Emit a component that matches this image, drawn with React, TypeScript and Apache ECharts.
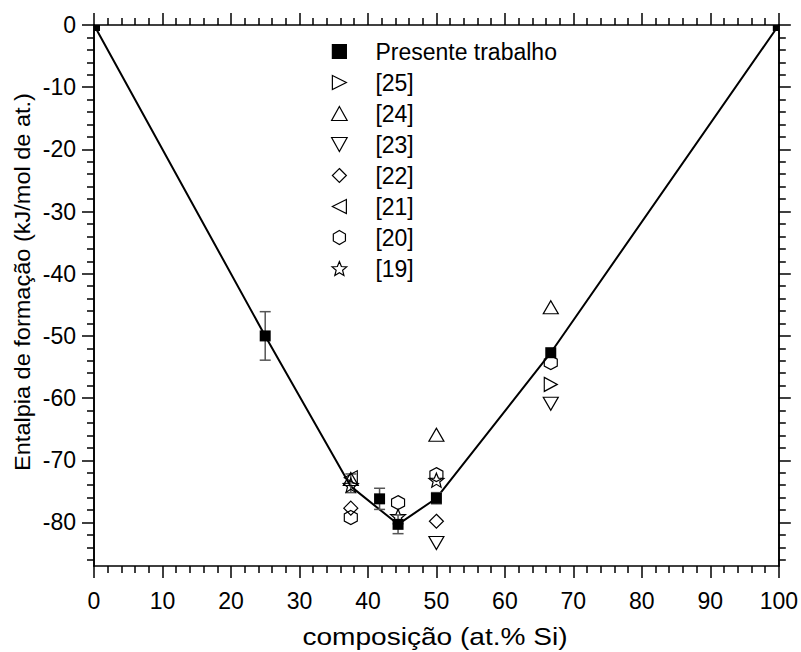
import React, { useEffect, useRef } from "react";
import * as echarts from "echarts";

// ---- data ----
const presentX = [0, 25, 41.7, 44.4, 50, 66.7, 100];
const presentY = [0, -50, -76.2, -80.3, -76.1, -52.7, 0];

const errX = [25, 37.5, 41.7, 44.4, 50];
const errLow = [-53.9, -75.2, -77.9, -81.8, -77.0];
const errHigh = [-46.1, -72.2, -74.5, -78.8, -75.2];

const lineX = [0, 25, 37.5, 44.4, 50, 66.7, 100];
const lineY = [0, -50, -74.2, -80.3, -76.1, -52.7, 0];

const ref25X = [66.7];
const ref25Y = [-57.8];
const ref24X = [37.5, 50, 66.7];
const ref24Y = [-73.0, -65.9, -45.4];
const ref23X = [50, 66.7];
const ref23Y = [-83.3, -60.9];
const ref22X = [37.5, 50];
const ref22Y = [-77.7, -79.8];
const ref21X = [37.5];
const ref21Y = [-72.8];
const ref20X = [37.5, 44.4, 50, 66.7];
const ref20Y = [-79.2, -76.8, -72.3, -54.3];
const ref19X = [37.5, 44.4, 50];
const ref19Y = [-74.0, -79.0, -73.2];

const seriesNames = ["Presente trabalho", "[25]", "[24]", "[23]", "[22]", "[21]", "[20]", "[19]"];

const yMajorTicks = [-80, -70, -60, -50, -40, -30, -20, -10, 0];
const yMinorTicks = [-86, -84, -82, -78, -76, -74, -72, -68, -66, -64, -62, -58, -56, -54, -52, -48, -46, -44, -42, -38, -36, -34, -32, -28, -26, -24, -22, -18, -16, -14, -12, -8, -6, -4, -2];

const xTitle = "composição (at.% Si)";
const yTitle = "Entalpia de formação (kJ/mol de at.)";

// ---- symbols ----
const SYM_SQUARE = "path://M0,0L10,0L10,10L0,10Z";
const SYM_RIGHT = "path://M0,0L10,5L0,10Z";
const SYM_UP = "path://M5,0L10,9L0,9Z";
const SYM_DOWN = "path://M0,0L10,0L5,9Z";
const SYM_DIAMOND = "path://M5,0L10,5L5,10L0,5Z";
const SYM_LEFT = "path://M10,0L0,5L10,10Z";
const SYM_HEX = "path://M5,0L9.33,2.5L9.33,7.5L5,10L0.67,7.5L0.67,2.5Z";
const SYM_STAR = "path://M5,0L6.293,3.22L9.755,3.455L7.092,5.68L7.939,9.045L5,7.2L2.061,9.045L2.908,5.68L0.245,3.455L3.707,3.22Z";

const FONT = "'Liberation Sans', Arial, sans-serif";
const X_MIN = 0;
const X_MAX = 100;

function zip(xs: number[], ys: number[]) {
  return xs.map((x, i) => [x, ys[i]]);
}

export default function App() {
  const ref = useRef<HTMLDivElement>(null);
  useEffect(() => {
    if (!ref.current) return;
    const chart = echarts.init(ref.current, undefined, { renderer: "svg" });

    const hollow = (name: string, symbol: string, xs: number[], ys: number[], size: number[]) => ({
      name,
      type: "scatter",
      symbol,
      symbolSize: size,
      data: zip(xs, ys),
      itemStyle: { color: "rgba(0,0,0,0)", borderColor: "#000", borderWidth: 1.2, opacity: 1 },
      z: 4,
    });

    // squares on the plot frame are shown clipped (only the inner quarter)
    const presentData = presentX.map((x, i) => {
      if (x === X_MIN) return { value: [x, presentY[i]], symbolSize: [6, 6], symbolOffset: [3, 3] };
      if (x === X_MAX) return { value: [x, presentY[i]], symbolSize: [6, 6], symbolOffset: [-3, 3] };
      return { value: [x, presentY[i]] };
    });

    const xAxisBase = {
      type: "value",
      min: X_MIN,
      max: X_MAX,
      interval: 10,
      axisLine: { show: true, onZero: false, lineStyle: { color: "#000", width: 1.6 } },
      axisTick: { show: true, length: 12, lineStyle: { color: "#000", width: 1.5 } },
      minorTick: { show: true, splitNumber: 5, length: 7, lineStyle: { color: "#000", width: 1.5 } },
      splitLine: { show: false },
      minorSplitLine: { show: false },
    };

    const yAxisBase = (position: string, major: boolean, labels: boolean) => ({
      type: "value",
      position,
      min: -87,
      max: 0,
      axisLine: { show: true, onZero: false, lineStyle: { color: "#000", width: 1.6 } },
      axisTick: {
        show: true,
        length: major ? 12 : 7,
        customValues: major ? yMajorTicks : yMinorTicks,
        lineStyle: { color: "#000", width: 1.5 },
      },
      axisLabel: labels
        ? { show: true, customValues: yMajorTicks, fontSize: 23, color: "#000", fontFamily: FONT, margin: 18 }
        : { show: false },
      splitLine: { show: false },
    });

    chart.setOption({
      animation: false,
      backgroundColor: "#fff",
      grid: { left: 94, right: 20, top: 25, bottom: 86, containLabel: false },
      xAxis: [
        {
          ...xAxisBase,
          position: "bottom",
          axisLabel: { fontSize: 23, color: "#000", fontFamily: FONT, margin: 23 },
        },
        { ...xAxisBase, position: "top", axisLabel: { show: false } },
      ],
      yAxis: [
        yAxisBase("left", true, true),
        yAxisBase("left", false, false),
        yAxisBase("right", true, false),
        yAxisBase("right", false, false),
      ],
      legend: {
        data: seriesNames,
        orient: "vertical",
        left: 331,
        top: 40,
        padding: 0,
        itemGap: 8,
        itemWidth: 62,
        itemHeight: 14,
        symbolKeepAspect: true,
        itemStyle: { borderWidth: 1.2 },
        textStyle: { fontSize: 23, color: "#000", fontFamily: FONT },
      },
      graphic: [
        {
          type: "text",
          x: 435,
          y: 637,
          scaleX: 1.17,
          style: { text: xTitle, font: `24px ${FONT}`, fill: "#000", textAlign: "center", textVerticalAlign: "middle", align: "center", verticalAlign: "middle" },
        },
        {
          type: "text",
          x: 22,
          y: 282,
          rotation: Math.PI / 2,
          scaleX: 1.07,
          style: { text: yTitle, font: `22px ${FONT}`, fill: "#000", textAlign: "center", textVerticalAlign: "middle", align: "center", verticalAlign: "middle" },
        },
      ],
      series: [
        {
          name: "line",
          type: "line",
          data: zip(lineX, lineY),
          symbol: "none",
          lineStyle: { color: "#000", width: 2 },
          z: 2,
          silent: true,
        },
        {
          name: "errorbars",
          type: "custom",
          data: errX.map((x, i) => [x, errLow[i], errHigh[i]]),
          encode: { x: 0, y: [1, 2] },
          z: 3,
          renderItem: (params: any, api: any) => {
            const x = api.value(0);
            const lo = api.coord([x, api.value(1)]);
            const hi = api.coord([x, api.value(2)]);
            const w = 5.5;
            const st = { stroke: "#555", lineWidth: 1.5 };
            return {
              type: "group",
              children: [
                { type: "line", shape: { x1: hi[0], y1: hi[1], x2: lo[0], y2: lo[1] }, style: st },
                { type: "line", shape: { x1: hi[0] - w, y1: hi[1], x2: hi[0] + w, y2: hi[1] }, style: st },
                { type: "line", shape: { x1: lo[0] - w, y1: lo[1], x2: lo[0] + w, y2: lo[1] }, style: st },
              ],
            };
          },
        },
        {
          name: "Presente trabalho",
          type: "scatter",
          symbol: SYM_SQUARE,
          symbolSize: [11, 11],
          data: presentData,
          itemStyle: { color: "#000", borderColor: "#000", borderWidth: 0, opacity: 1 },
          z: 5,
        },
        hollow("[25]", SYM_RIGHT, ref25X, ref25Y, [13, 14]),
        hollow("[24]", SYM_UP, ref24X, ref24Y, [15, 13]),
        hollow("[23]", SYM_DOWN, ref23X, ref23Y, [15, 13]),
        hollow("[22]", SYM_DIAMOND, ref22X, ref22Y, [14, 14]),
        hollow("[21]", SYM_LEFT, ref21X, ref21Y, [13, 14]),
        hollow("[20]", SYM_HEX, ref20X, ref20Y, [13, 14]),
        hollow("[19]", SYM_STAR, ref19X, ref19Y, [15, 14]),
      ],
    });
    return () => chart.dispose();
  }, []);
  return (
    <div
      ref={ref}
      style={{ position: "fixed", left: 0, top: 0, width: 801, height: 652, background: "#fff" }}
    />
  );
}
